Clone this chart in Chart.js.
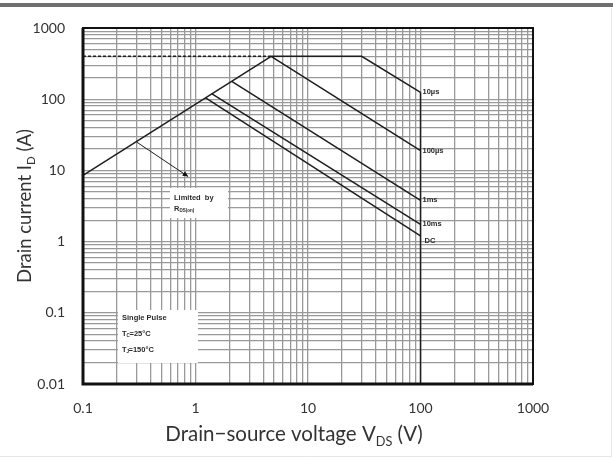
<!DOCTYPE html>
<html>
<head>
<meta charset="utf-8">
<script src="https://cdn.jsdelivr.net/npm/chart.js@4/dist/chart.umd.min.js"></script>
<style>
  html, body { margin: 0; padding: 0; background: #fff; }
  #wrap { width: 613px; height: 458px; position: relative; }
</style>
</head>
<body>
<div id="wrap"><canvas id="soa" width="613" height="458"></canvas></div>
<script>
// axis decades (major ticks)
let xTicks = [0.1, 1, 10, 100, 1000];
let yTicks = [0.01, 0.1, 1, 10, 100, 1000];

// R_DS(on) limit line
let rdsV = [0.1, 4.7];
let rdsI = [8.5, 400];
// package current limit (dashed)
let pkgV = [0.1, 4.7];
let pkgI = [400, 400];
// pulse curves
let us10V = [4.7, 30, 100];
let us10I = [400, 400, 125];
let us100V = [4.7, 100];
let us100I = [400, 19];
let ms1V = [2.1, 100];
let ms1I = [178, 3.8];
let ms10V = [1.39, 100];
let ms10I = [120, 1.75];
let dcV = [1.23, 100];
let dcI = [104, 1.2];
// V_DSS limit
let vdssV = [100, 100];
let vdssI = [125, 0.01];
// "Limited by" arrow
let arrowV = [0.3, 0.86];
let arrowI = [25, 8.2];

let curveNames = ['10µs', '100µs', '1ms', '10ms', 'DC'];

function pts(v, i) {
  return v.map((x, k) => ({ x: x, y: i[k] }));
}

function minorTicks(majors) {
  let out = [];
  for (let k = 0; k < majors.length - 1; k++) {
    for (let m = 1; m < 10; m++) out.push(majors[k] * m);
  }
  out.push(majors[majors.length - 1]);
  return out;
}

function isMajor(v, majors) {
  return majors.some(m => Math.abs(v - m) / m < 1e-6);
}

let lineColor = '#1e1e1e';
function ds(data, opts) {
  return Object.assign({
    data: data,
    showLine: true,
    pointRadius: 0,
    borderColor: lineColor,
    borderWidth: 1.5,
    fill: false
  }, opts || {});
}

let curves = [
  pts(us10V, us10I),
  pts(us100V, us100I),
  pts(ms1V, ms1I),
  pts(ms10V, ms10I),
  pts(dcV, dcI)
];

// draw subscripted text pieces: [[text, isSub], ...]
function drawPieces(ctx, pieces, x, y, size, measureOnly) {
  let w = 0;
  pieces.forEach(p => {
    ctx.font = (p[1] ? size * 0.62 : size) + 'px Lato';
    if (!measureOnly) ctx.fillText(p[0], x + w, p[1] ? y + size * 0.22 : y);
    w += ctx.measureText(p[0]).width;
  });
  return w;
}

const decorPlugin = {
  id: 'decor',
  beforeDraw(chart) {
    const ctx = chart.ctx;
    ctx.save();
    ctx.fillStyle = '#fff';
    ctx.fillRect(0, 0, chart.width, chart.height);
    // top bar
    ctx.fillStyle = '#6f6f6f';
    ctx.fillRect(0, 3, chart.width, 4);
    ctx.strokeStyle = '#e6e6e6';
    ctx.lineWidth = 1;
    ctx.beginPath();
    ctx.moveTo(611.5, 8); ctx.lineTo(611.5, 456.5); ctx.lineTo(0, 456.5);
    ctx.stroke();
    ctx.restore();
  },
  afterDatasetsDraw(chart) {
    const ctx = chart.ctx;
    const xs = chart.scales.x, ys = chart.scales.y;
    const a = chart.chartArea;
    ctx.save();

    // frame
    ctx.strokeStyle = '#111';
    ctx.lineWidth = 2;
    ctx.strokeRect(a.left, a.top, a.right - a.left, a.bottom - a.top);
    ctx.lineWidth = 3;
    ctx.beginPath();
    ctx.moveTo(a.left, a.top); ctx.lineTo(a.left, a.bottom); ctx.lineTo(a.right, a.bottom);
    ctx.stroke();

    // curve labels
    ctx.fillStyle = '#2a2a2a';
    ctx.font = 'bold 7.5px "Liberation Sans", Arial';
    ctx.textBaseline = 'middle';
    curves.forEach((c, k) => {
      const end = c[c.length - 1];
      const px = xs.getPixelForValue(end.x);
      const py = ys.getPixelForValue(end.y);
      ctx.fillText(curveNames[k], px + (k === 4 ? 4 : 2), py + (k === 4 ? 5 : 0));
    });

    // arrow head
    const ax0 = xs.getPixelForValue(arrowV[0]), ay0 = ys.getPixelForValue(arrowI[0]);
    const ax1 = xs.getPixelForValue(arrowV[1]), ay1 = ys.getPixelForValue(arrowI[1]);
    const ang = Math.atan2(ay1 - ay0, ax1 - ax0);
    ctx.fillStyle = '#111';
    ctx.beginPath();
    ctx.moveTo(ax1, ay1);
    ctx.lineTo(ax1 - 6 * Math.cos(ang - 0.45), ay1 - 6 * Math.sin(ang - 0.45));
    ctx.lineTo(ax1 - 6 * Math.cos(ang + 0.45), ay1 - 6 * Math.sin(ang + 0.45));
    ctx.closePath();
    ctx.fill();

    // "Limited by" box
    ctx.fillStyle = '#fff';
    ctx.fillRect(a.left + 87, 188, 58, 30);
    ctx.fillStyle = '#2a2a2a';
    ctx.font = 'bold 7.5px "Liberation Sans", Arial';
    ctx.textBaseline = 'middle';
    ctx.fillText('Limited  by', a.left + 91, 198);
    ctx.fillText('R', a.left + 91, 209);
    ctx.font = 'bold 4.5px "Liberation Sans", Arial';
    ctx.fillText('DS(on)', a.left + 96.5, 211);

    // Single pulse box
    ctx.fillStyle = '#fff';
    ctx.fillRect(a.left + 35, 310, 80, 53);
    ctx.fillStyle = '#2a2a2a';
    ctx.font = 'bold 7.5px "Liberation Sans", Arial';
    ctx.fillText('Single Pulse', a.left + 39, 318);
    ctx.fillText('T', a.left + 39, 334);
    ctx.fillText('T', a.left + 39, 350);
    ctx.font = 'bold 4.5px "Liberation Sans", Arial';
    ctx.fillText('C', a.left + 43.5, 336);
    ctx.fillText('J', a.left + 43.5, 352);
    ctx.font = 'bold 7.5px "Liberation Sans", Arial';
    ctx.fillText('=25°C', a.left + 46.5, 334);
    ctx.fillText('=150°C', a.left + 45.5, 350);

    // axis titles
    ctx.fillStyle = '#333';
    ctx.textBaseline = 'alphabetic';
    const xt = [['Drain\u2212source voltage V', false], ['DS', true], [' (V)', false]];
    const xw = drawPieces(ctx, xt, 0, 0, 20.5, true);
    drawPieces(ctx, xt, a.left + 211 - xw / 2, 441, 20.5, false);

    const yt = [['Drain current I', false], ['D', true], [' (A)', false]];
    const yw = drawPieces(ctx, yt, 0, 0, 18.5, true);
    ctx.translate(31, (a.top + a.bottom) / 2);
    ctx.rotate(-Math.PI / 2);
    drawPieces(ctx, yt, -yw / 2, 0, 18.5, false);

    ctx.restore();
  }
};

new Chart(document.getElementById('soa'), {
  type: 'scatter',
  data: {
    datasets: [
      ds(pts(rdsV, rdsI)),
      ds(pts(pkgV, pkgI), { borderDash: [3, 2] }),
      ds(curves[0]),
      ds(curves[1]),
      ds(curves[2]),
      ds(curves[3]),
      ds(curves[4]),
      ds(pts(vdssV, vdssI)),
      ds(pts(arrowV, arrowI), { borderWidth: 1 })
    ]
  },
  options: {
    responsive: false,
    animation: false,
    layout: { padding: { left: 0, right: 80, top: 28, bottom: 0 } },
    plugins: { legend: { display: false }, tooltip: { enabled: false } },
    scales: {
      x: {
        type: 'logarithmic',
        min: xTicks[0],
        max: xTicks[xTicks.length - 1],
        afterBuildTicks: s => { s.ticks = minorTicks(xTicks).map(v => ({ value: v })); },
        afterFit: s => { s.height = 74; },
        grid: { color: '#999', lineWidth: 1.3, drawTicks: false },
        border: { display: false },
        ticks: {
          autoSkip: false,
          maxRotation: 0,
          padding: 16,
          color: '#333',
          font: { family: 'Lato', size: 14 },
          callback: v => isMajor(v, xTicks) ? String(+v.toPrecision(6)) : ''
        }
      },
      y: {
        type: 'logarithmic',
        min: yTicks[0],
        max: yTicks[yTicks.length - 1],
        afterBuildTicks: s => { s.ticks = minorTicks(yTicks).map(v => ({ value: v })); },
        afterFit: s => { s.width = 83; },
        grid: { color: '#999', lineWidth: 1.3, drawTicks: false },
        border: { display: false },
        ticks: {
          autoSkip: false,
          padding: 18,
          color: '#333',
          font: { family: 'Lato', size: 14 },
          callback: v => isMajor(v, yTicks) ? String(+v.toPrecision(6)) : ''
        }
      }
    }
  },
  plugins: [decorPlugin]
});
</script>
</body>
</html>
